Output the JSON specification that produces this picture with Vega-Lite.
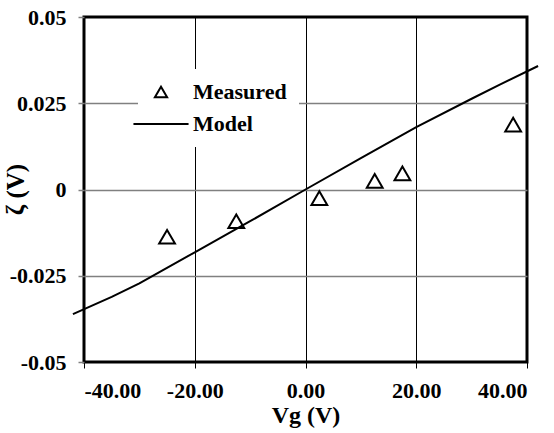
{
  "$schema": "https://vega.github.io/schema/vega-lite/v6.json",
  "width": 443,
  "height": 345,
  "autosize": {"type": "none"},
  "padding": {"left": 84, "top": 17, "right": 27, "bottom": 71},
  "background": "white",
  "config": {
    "view": {"stroke": "black", "strokeWidth": 3},
    "font": "Liberation Serif"
  },
  "datasets": {
    "model": [
      {"vg": -42, "zeta": -0.0361},
      {"vg": -35, "zeta": -0.0311},
      {"vg": -30, "zeta": -0.0272},
      {"vg": -20, "zeta": -0.0182},
      {"vg": -10, "zeta": -0.0092},
      {"vg": 0, "zeta": 0.0},
      {"vg": 10, "zeta": 0.0091},
      {"vg": 20, "zeta": 0.0181},
      {"vg": 30, "zeta": 0.0263},
      {"vg": 35, "zeta": 0.0303},
      {"vg": 42, "zeta": 0.0358}
    ],
    "measured": [
      {"vg": -25, "zeta": -0.0137, "series": "Measured"},
      {"vg": -12.5, "zeta": -0.0092, "series": "Measured"},
      {"vg": 2.5, "zeta": -0.0025, "series": "Measured"},
      {"vg": 12.5, "zeta": 0.0025, "series": "Measured"},
      {"vg": 17.5, "zeta": 0.0047, "series": "Measured"},
      {"vg": 37.5, "zeta": 0.0188, "series": "Measured"}
    ]
  },
  "layer": [
    {
      "data": {"name": "model"},
      "mark": {"type": "line", "color": "black", "strokeWidth": 2, "clip": false},
      "encoding": {
        "x": {
          "field": "vg", "type": "quantitative",
          "scale": {"domain": [-40, 40], "nice": false, "zero": false},
          "axis": {
            "values": [-40, -20, 0, 20, 40],
            "labelExpr": "datum.value < 0 ? '-' + format(abs(datum.value), '.2f') : format(datum.value, '.2f')",
            "domain": false,
            "grid": true, "gridColor": "black", "gridWidth": 1,
            "ticks": true, "tickColor": "black", "tickSize": 6, "tickWidth": 1,
            "labelFont": "Liberation Serif", "labelFontWeight": "bold", "labelFontSize": 22, "labelColor": "black",
            "labelBaseline": "alphabetic", "labelPadding": 29,
            "title": "Vg (V)",
            "titleFont": "Liberation Serif", "titleFontWeight": "bold", "titleFontSize": 24, "titleColor": "black",
            "titleBaseline": "alphabetic", "titleY": 60
          }
        },
        "y": {
          "field": "zeta", "type": "quantitative",
          "scale": {"domain": [-0.05, 0.05], "nice": false, "zero": false},
          "axis": {
            "values": [-0.05, -0.025, 0, 0.025, 0.05],
            "labelExpr": "'' + datum.value",
            "domain": false,
            "grid": true, "gridColor": "#808080", "gridWidth": 1.5,
            "gridOpacity": {"condition": {"test": "abs(datum.value) > 0.04", "value": 0}, "value": 1},
            "ticks": true, "tickColor": "#808080", "tickSize": 6, "tickWidth": 1.5,
            "labelFont": "Liberation Serif", "labelFontWeight": "bold", "labelFontSize": 22, "labelColor": "black",
            "labelPadding": 12,
            "title": "ζ (V)",
            "titleFont": "Liberation Serif", "titleFontWeight": "bold", "titleFontSize": 25, "titleColor": "black",
            "titleBaseline": "alphabetic", "titleX": -61, "titleY": 172, "titleAlign": "center"
          }
        }
      }
    },
    {
      "data": {"name": "measured"},
      "mark": {"type": "point", "filled": false, "size": 250, "strokeWidth": 2, "color": "black", "opacity": 1},
      "encoding": {
        "x": {"field": "vg", "type": "quantitative"},
        "y": {"field": "zeta", "type": "quantitative"},
        "shape": {
          "field": "series", "type": "nominal",
          "scale": {"domain": ["Measured", "Model"], "range": ["triangle-up", "M-4.5,0L4.5,0"]},
          "legend": {
            "orient": "none", "legendX": 54, "legendY": 52,
            "title": null,
            "fillColor": "white",
            "padding": 12,
            "labelFont": "Liberation Serif", "labelFontWeight": "bold", "labelFontSize": 22, "labelColor": "black",
            "symbolSize": 150, "symbolStrokeWidth": 2, "symbolStrokeColor": "black", "symbolFillColor": "transparent",
            "labelOffset": 21, "rowPadding": 10
          }
        }
      }
    }
  ]
}
